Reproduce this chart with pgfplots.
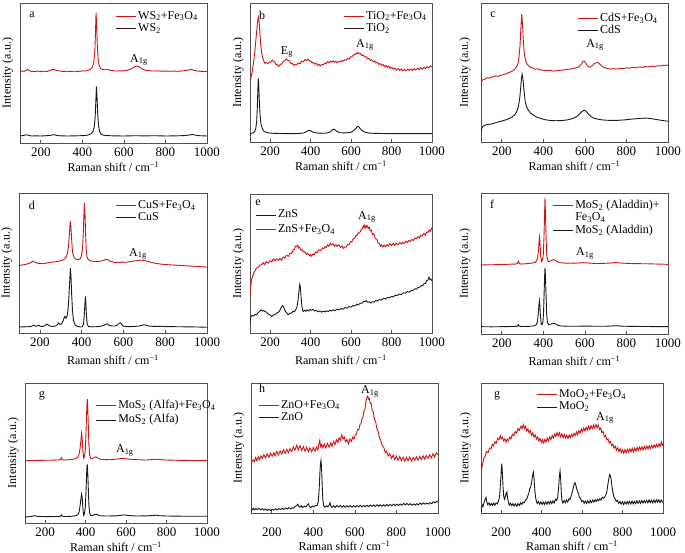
\documentclass[border=0pt]{standalone}
\usepackage{fontspec}
\setmainfont{Liberation Serif}
\usepackage{pgfplots}
\pgfplotsset{compat=1.18}
\definecolor{rred}{RGB}{205,20,20}
\definecolor{kline}{RGB}{25,25,25}
\definecolor{axisgray}{RGB}{80,80,80}
\newcommand\fs{\fontsize{12bp}{14bp}\selectfont}
\newcommand\ft{\fontsize{13bp}{15bp}\selectfont}
\newcommand\FeO{Fe\textsubscript{3}O\textsubscript{4}}
\newcommand\Ag{A\textsubscript{1g}}
\pgfplotsset{
 panel/.style={
  scale only axis, anchor=north west,
  xmin=100, xmax=1000, ymin=0, ymax=100,
  xtick={200,400,600,800,1000}, ytick=\empty,
  xtick pos=bottom, tick align=inside, major tick length=3bp,
  axis line style={line width=0.7bp, draw=axisgray},
  every tick/.style={line width=0.7bp, draw=axisgray},
  tick label style={font=\ft}, label style={font=\fs},
  xticklabel style={yshift=-1.5bp},
  /pgf/number format/assume math mode=true, /pgf/number format/1000 sep={},
  xlabel={Raman shift / cm\textsuperscript{−1}}, ylabel={Intensity (a.u.)},
  xlabel style={at={(axis description cs:0.5,0)}, anchor=center, yshift=-24bp},
  ylabel style={at={(axis description cs:-0.065,0.5)}, anchor=center},
  legend style={draw=none, fill=none, font=\fs, inner sep=0pt, row sep=0pt, column sep=1.5bp,
    nodes={inner sep=0.5bp, text height=8.5bp, text depth=3bp}},
  legend cell align=left,
  legend image code/.code={\draw[#1, line width=1bp] (0bp,0bp) -- (20bp,0bp);},
  rline/.style={color=rred, line width=0.9bp},
  kline/.style={color=kline, line width=0.9bp},
 },
}
\begin{document}
\begin{tikzpicture}
\path[use as bounding box] (0,0) rectangle (685bp,-553bp);

% ---------- a ----------
\begin{axis}[panel, at={(20bp,-3bp)}, width=187bp, height=140bp,
  legend style={at={(axis description cs:0.508,0.95)}, anchor=north west}]
\addplot[rline] coordinates {(100,51.0)(110,51.4)(120,51.2)(130,52.0)(137,52.6)(145,51.6)(155,51.2)(170,51.0)(185,51.4)(200,50.9)(215,51.3)(230,51.1)(245,51.8)(258,52.6)(268,52.3)(280,51.7)(295,51.4)(310,51.0)(325,51.3)(340,51.0)(360,51.3)(380,51.1)(400,51.5)(415,51.4)(430,52.0)(440,52.8)(448,54.0)(455,57.5)(460,65)(463,77)(466,93)(469,84)(472,70)(476,60)(481,55)(488,53.2)(497,52.4)(510,52.3)(520,52.6)(530,52.1)(545,51.7)(560,51.4)(580,51.5)(600,51.5)(615,51.9)(630,52.5)(642,53.6)(652,54.5)(662,55.0)(672,54.6)(682,53.6)(692,52.6)(705,52.0)(720,51.7)(740,51.4)(760,51.5)(780,51.3)(800,51.4)(820,51.2)(840,51.4)(860,51.2)(880,51.5)(900,51.8)(915,52.3)(925,52.6)(935,52.0)(950,51.5)(970,51.2)(985,51.1)(1000,51.0)};
\addlegendentry{WS\textsubscript{2}+\FeO}
\addplot[kline] coordinates {(100,5.0)(115,5.4)(128,5.8)(140,5.6)(155,5.0)(175,5.1)(200,5.0)(225,5.2)(245,5.4)(258,5.9)(268,5.8)(280,5.3)(300,5.1)(330,5.0)(360,5.1)(390,5.2)(415,5.4)(430,5.8)(442,6.6)(452,8.4)(458,12)(462,19)(465,30)(468,40.5)(471,32)(474,21)(478,12.5)(483,8.2)(490,6.3)(500,5.6)(520,5.3)(550,5.1)(600,5.0)(650,5.2)(700,5.1)(750,5.2)(800,5.0)(850,5.1)(890,5.3)(915,5.7)(930,6.1)(945,5.6)(965,5.2)(985,5.1)(1000,5.0)};
\addlegendentry{WS\textsubscript{2}}
\node[font=\fs] at (axis description cs:0.064,0.914) {a};
\node[font=\fs] at (axis description cs:0.636,0.593) {\Ag};
\end{axis}

% ---------- b ----------
\begin{axis}[panel, at={(250bp,-3bp)}, width=182bp, height=139bp,
  legend style={at={(axis description cs:0.511,0.95)}, anchor=north west}]
\addplot[rline] coordinates {(100,44.6)(105,46.5)(110,50)(115,54.5)(120,60)(125,67)(130,75)(134,81)(137,86)(141,90)(144,88)(147,83)(150,76)(153,70)(157,65)(162,61)(168,58.4)(174,56.6)(180,57.2)(187,56.4)(195,57.6)(202,57.4)(210,59.0)(216,58.2)(222,57.6)(228,55.8)(235,55.6)(242,54.4)(250,55.8)(257,56.2)(265,58.0)(272,58.4)(280,59.8)(287,58.8)(295,58.4)(302,56.6)(310,56.4)(316,55.0)(322,55.8)(330,55.6)(340,56.9)(348,56.4)(356,58.2)(364,57.6)(372,59.4)(380,58.6)(387,59.6)(394,58.2)(400,58.4)(407,56.8)(414,57.2)(420,56.0)(428,56.6)(435,55.0)(442,55.8)(448,54.8)(455,55.8)(462,55.4)(470,56.9)(477,56.2)(484,57.8)(490,57.0)(497,58.2)(504,57.4)(511,58.4)(518,57.4)(525,58.0)(532,57.0)(540,58.2)(547,57.6)(554,58.6)(561,58.0)(569,59.2)(576,58.8)(583,60.2)(590,59.6)(597,61.2)(604,61.2)(611,62.8)(618,62.6)(625,64.0)(630,63.4)(635,64.4)(641,63.4)(647,63.6)(653,62.2)(660,62.6)(667,61.2)(674,61.4)(681,60.0)(688,60.2)(695,58.8)(702,59.2)(709,57.8)(716,58.2)(723,56.8)(730,57.4)(737,55.8)(744,56.4)(751,55.0)(758,55.8)(765,54.2)(772,55.2)(779,53.6)(786,54.6)(793,53.0)(800,53.8)(808,52.4)(816,53.2)(824,51.8)(832,52.8)(840,51.4)(848,52.6)(856,51.2)(864,52.4)(872,51.2)(880,52.4)(888,51.4)(896,52.6)(904,51.6)(912,52.8)(920,51.8)(928,53.0)(936,52.0)(944,53.4)(952,52.4)(960,53.8)(968,52.8)(976,54.2)(984,53.4)(992,54.8)(1000,54.2)};
\addlegendentry{TiO\textsubscript{2}+\FeO}
\addplot[kline] coordinates {(100,6.2)(110,6.3)(118,6.8)(124,7.8)(129,10)(133,15)(136,24)(139,38)(141,45.8)(143,42)(146,30)(150,19)(155,12.5)(162,9.2)(170,7.6)(180,6.9)(195,6.5)(220,6.2)(260,6.1)(300,6.0)(340,6.1)(365,6.5)(378,7.4)(388,8.2)(395,8.4)(403,7.8)(415,6.9)(435,6.4)(470,6.3)(492,6.8)(503,8.2)(512,9.2)(520,8.8)(530,7.6)(545,6.7)(570,6.5)(595,6.8)(610,7.8)(622,9.6)(632,11.2)(638,11.0)(646,9.4)(656,8.0)(670,7.0)(690,6.4)(720,6.2)(760,6.1)(800,6.0)(850,6.0)(900,6.0)(950,6.0)(1000,6.0)};
\addlegendentry{TiO\textsubscript{2}}
\node[font=\fs] at (axis description cs:0.066,0.914) {b};
\node[font=\fs] at (axis description cs:0.203,0.647) {E\textsubscript{g}};
\node[font=\fs] at (axis description cs:0.632,0.698) {\Ag};
\end{axis}

% ---------- c ----------
\begin{axis}[panel, at={(481bp,-3bp)}, width=187bp, height=139bp,
  ylabel style={at={(axis description cs:-0.085,0.5)}},
  legend style={at={(axis description cs:0.513,0.935)}, anchor=north west}]
\addplot[rline] coordinates {(100,41.7)(103,43.5)(108,44.6)(113,45.0)(122,45.4)(130,46.2)(140,45.9)(150,46.8)(160,46.9)(170,47.6)(180,47.2)(193,47.9)(205,48.3)(215,48.9)(225,49.4)(235,50.0)(245,50.6)(255,51.4)(263,52.4)(270,53.8)(277,56)(283,61)(288,70)(292,82)(296,92)(300,84)(304,72)(309,63)(315,58.5)(322,56)(330,54.8)(340,53.6)(350,53.2)(360,52.4)(372,52.6)(385,51.8)(400,51.6)(415,51.3)(433,51.4)(450,51.0)(470,51.4)(490,51.7)(510,52.2)(530,52.4)(550,53.1)(565,53.6)(575,54.6)(584,56.4)(591,58.0)(597,58.3)(603,57.0)(610,55.2)(618,54.0)(626,53.8)(635,54.8)(645,56.4)(655,57.0)(664,57.2)(672,56.0)(682,54.6)(695,53.4)(710,52.8)(725,52.4)(740,52.8)(755,52.5)(770,53.0)(785,52.8)(800,53.4)(815,53.1)(830,53.7)(845,53.4)(860,54.0)(875,53.7)(890,54.3)(905,54.0)(920,54.6)(935,54.3)(950,54.9)(965,54.6)(980,55.3)(990,55.0)(1000,55.5)};
\addlegendentry{CdS+\FeO}
\addplot[kline] coordinates {(100,7.1)(103,9.5)(107,10.9)(113,11.6)(122,12.2)(130,12.6)(145,12.8)(160,13.4)(175,14.1)(190,14.7)(205,15.3)(220,16.0)(235,16.9)(250,18.0)(262,19.5)(272,21.8)(280,25.5)(286,31)(291,39)(295,46)(298,48.8)(302,45)(307,37)(313,29)(320,25)(329,22.6)(340,20.6)(355,19.0)(370,17.8)(390,16.8)(410,16.0)(433,15.5)(460,15.3)(490,15.4)(515,15.9)(535,16.6)(552,17.6)(565,18.8)(577,20.5)(587,22.0)(595,22.8)(602,22.6)(610,21.4)(620,19.6)(632,18.0)(645,17.1)(660,16.5)(680,16.0)(700,15.7)(730,15.5)(760,15.6)(790,15.9)(820,16.4)(850,16.8)(875,17.1)(895,17.2)(915,16.9)(935,16.4)(955,15.9)(975,15.4)(1000,15.0)};
\addlegendentry{CdS}
\node[font=\fs] at (axis description cs:0.064,0.914) {c};
\node[font=\fs] at (axis description cs:0.61,0.698) {\Ag};
\end{axis}

% ---------- d ----------
\begin{axis}[panel, at={(19bp,-193bp)}, width=188bp, height=140bp,
  xlabel style={yshift=-3bp},
  legend style={at={(axis description cs:0.51,0.957)}, anchor=north west}]
\addplot[rline] coordinates {(100,48.0)(115,48.6)(130,48.9)(145,49.6)(155,50.2)(163,51.0)(168,51.3)(175,50.6)(185,50.0)(195,49.6)(205,49.8)(215,49.4)(228,49.9)(240,50.2)(255,50.6)(270,50.8)(285,51.1)(297,51.6)(308,52.1)(318,52.9)(326,54.4)(332,57)(337,62)(341,70)(344,77)(346,79.8)(349,75)(352,67)(356,58)(361,55)(367,53.4)(375,52.6)(385,52.4)(393,53.0)(399,55)(404,60)(408,72)(411,85)(413,92.9)(416,85)(419,70)(422,59)(426,54)(432,52.4)(442,51.6)(455,51.2)(470,51.0)(485,51.2)(500,51.6)(510,52.2)(518,52.7)(526,52.2)(538,51.2)(550,50.7)(562,50.4)(574,50.6)(582,50.3)(595,50.7)(610,50.5)(625,50.8)(640,51.2)(655,51.5)(670,51.8)(685,52.0)(700,51.8)(715,51.2)(730,50.6)(745,50.0)(760,49.6)(780,49.2)(800,48.9)(830,48.6)(860,48.4)(890,48.1)(920,47.8)(950,47.6)(975,47.3)(1000,47.1)};
\addlegendentry{CuS+\FeO}
\addplot[kline] coordinates {(100,4.3)(130,4.4)(155,4.6)(165,5.2)(172,5.6)(180,4.8)(188,5.0)(195,5.6)(202,4.8)(215,4.7)(225,5.2)(232,6.3)(238,6.0)(248,4.9)(262,4.7)(275,5.0)(283,5.8)(290,7.2)(296,6.2)(303,6.4)(310,8.2)(316,10.8)(320,11.9)(325,10.4)(330,12)(335,17)(339,26)(343,38)(346,46.4)(349,40)(352,28)(356,16)(361,9)(368,6.0)(378,4.8)(392,4.4)(403,4.5)(409,6.5)(413,14)(416,22)(418,26.2)(420,22)(423,12)(427,6)(433,4.6)(450,4.4)(470,4.5)(490,4.8)(505,5.4)(515,6.2)(522,6.5)(530,5.6)(545,5.0)(560,5.0)(572,5.8)(580,7.0)(585,7.3)(590,6.4)(598,5.0)(615,4.6)(640,4.6)(660,4.8)(680,5.1)(695,5.8)(705,5.7)(720,5.0)(750,4.7)(780,4.8)(800,4.6)(850,4.5)(900,4.4)(950,4.3)(1000,4.1)};
\addlegendentry{CuS}
\node[font=\fs] at (axis description cs:0.069,0.914) {d};
\node[font=\fs] at (axis description cs:0.633,0.564) {\Ag};
\end{axis}

% ---------- e ----------
\begin{axis}[panel, at={(250bp,-194bp)}, width=182bp, height=139bp,
  xlabel style={yshift=-3bp},
  legend style={at={(axis description cs:0.027,0.895)}, anchor=north west, row sep=2bp}]
\addplot[kline] coordinates {(100,7.2)(102,10)(106,12.3)(110,12.6)(116,12.2)(125,13.3)(133,13.0)(141,14.8)(148,15.6)(155,16.7)(162,15.8)(168,16.3)(174,15.3)(182,15.1)(190,13.6)(198,13.1)(207,11.8)(215,12.9)(225,13.3)(235,14.6)(245,15.4)(250,17.2)(256,18.6)(262,19.8)(267,18.4)(273,16.0)(280,14.8)(289,13.1)(297,14.3)(306,14.3)(313,15.7)(320,15.3)(326,16.8)(332,18.5)(338,24)(342,30)(346,35)(349,33)(352,27)(356,20)(360,16.5)(363,15.4)(370,16.4)(376,15.6)(382,16.6)(390,15.8)(397,17.0)(404,16.3)(412,17.0)(420,15.8)(428,16.3)(436,15.2)(445,15.9)(455,15.0)(462,15.8)(470,15.2)(478,16.0)(487,15.3)(495,16.4)(503,15.8)(512,16.7)(520,16.1)(530,17.0)(540,16.6)(550,17.6)(560,17.1)(570,18.3)(580,17.9)(590,19.0)(600,18.6)(610,19.8)(620,19.5)(628,20.8)(635,20.2)(645,21.4)(655,21.6)(662,22.8)(668,22.6)(675,23.2)(682,22.1)(690,22.4)(698,21.6)(706,22.6)(714,22.2)(722,23.4)(730,23.0)(740,24.1)(750,23.7)(760,24.9)(770,24.4)(780,25.6)(790,25.2)(799,26.3)(808,26.0)(818,27.2)(828,26.9)(838,28.0)(848,27.6)(858,28.9)(868,28.6)(878,29.8)(888,29.4)(898,30.6)(908,30.8)(916,31.8)(924,31.6)(931,32.8)(940,33.0)(948,34.2)(955,34.1)(962,35.8)(968,35.7)(974,37.8)(980,38.0)(985,40.2)(990,38.5)(995,38.8)(1000,37.3)};
\addlegendentry{ZnS}
\addplot[rline] coordinates {(100,26.5)(103,33)(108,38.6)(115,41.5)(120,43.8)(125,44.6)(132,46.8)(140,47.0)(148,48.9)(158,49.0)(165,50.6)(172,49.2)(180,51.3)(190,50.2)(198,52.0)(207,51.1)(215,53.2)(222,51.9)(230,53.4)(240,52.1)(248,53.8)(256,52.4)(265,54.6)(272,53.9)(280,55.9)(290,55.2)(298,57.6)(306,57.1)(313,59.8)(320,60.2)(325,62.5)(330,62.0)(336,63.1)(340,61.2)(345,61.8)(352,59.6)(358,60.1)(363,58.4)(370,58.6)(378,56.6)(385,57.4)(393,55.5)(398,56.6)(404,55.3)(412,57.0)(418,56.3)(425,58.3)(432,57.6)(440,59.9)(450,59.3)(458,61.2)(465,60.6)(470,62.2)(478,61.6)(484,63.5)(490,62.4)(497,64.6)(503,63.4)(510,64.2)(518,62.5)(525,63.6)(530,62.3)(540,63.4)(548,61.5)(555,62.6)(562,60.8)(569,61.9)(576,61.8)(582,63.6)(590,63.4)(597,65.8)(603,65.5)(610,67.8)(617,67.9)(624,70.2)(630,70.2)(635,72.1)(642,71.8)(650,74.6)(655,74.8)(660,77.2)(665,75.8)(668,77.6)(673,75.5)(678,77.4)(685,75.3)(690,76.1)(695,73.5)(700,74.0)(706,70.8)(712,71.3)(720,67.8)(727,67.5)(733,64.6)(740,64.6)(745,62.4)(750,63.5)(757,61.8)(763,63.2)(770,62.0)(778,63.6)(785,62.6)(792,64.3)(800,63.0)(808,64.5)(815,63.1)(822,64.6)(832,63.5)(840,65.1)(848,64.0)(855,65.3)(862,64.4)(870,66.0)(878,65.1)(885,66.6)(892,65.7)(900,67.3)(908,66.6)(915,68.4)(922,67.7)(931,69.4)(938,68.3)(945,70.5)(952,69.8)(960,71.8)(967,70.4)(974,72.6)(980,72.4)(986,74.0)(991,73.0)(997,75.2)(1000,74.5)};
\addlegendentry{ZnS+\FeO}
\node[font=\fs] at (axis description cs:0.044,0.935) {e};
\node[font=\fs] at (axis description cs:0.643,0.835) {\Ag};
\end{axis}

% ---------- f ----------
\begin{axis}[panel, at={(481bp,-193bp)}, width=187bp, height=141bp,
  xlabel style={yshift=-3bp},
  ylabel style={at={(axis description cs:-0.085,0.5)}},
  legend style={at={(axis description cs:0.38,0.957)}, anchor=north west}]
\addplot[rline] coordinates {(100,49.0)(150,49.1)(200,49.3)(240,49.5)(268,49.6)(276,50.2)(280,51.6)(284,50.0)(295,49.6)(320,49.9)(345,50.3)(360,50.8)(368,52)(373,54.5)(377,60)(380,67)(382,69)(385,62)(388,54)(392,51.4)(396,52.5)(400,57)(403,68)(406,85)(408,96.4)(410,88)(413,70)(416,57)(420,52.5)(425,51.4)(432,51.6)(440,52.1)(448,52.6)(455,52.4)(462,51.8)(470,51.1)(480,50.6)(500,50.3)(530,50.2)(560,50.3)(592,50.6)(620,50.3)(650,50.0)(690,50.1)(720,50.3)(740,50.6)(752,50.7)(765,50.4)(800,50.1)(850,49.9)(900,49.8)(950,49.6)(1000,49.4)};
\addlegendentry{MoS\textsubscript{2} (Aladdin)+}
\addlegendimage{empty legend}
\addlegendentry{\FeO}
\addplot[kline] coordinates {(100,5.2)(150,5.1)(200,5.2)(240,5.3)(272,5.4)(277,5.8)(280,6.6)(284,5.6)(295,5.3)(330,5.4)(355,5.8)(366,6.6)(372,9)(376,15)(379,21)(381,23.7)(383,21)(386,13)(390,7)(394,6.6)(398,8.5)(401,15)(404,30)(406,40)(408,46.7)(410,42)(413,28)(416,14)(420,8)(426,6.6)(435,7.0)(445,7.5)(452,7.6)(460,7.0)(470,6.2)(485,5.7)(520,5.5)(560,5.5)(600,5.6)(650,5.5)(700,5.5)(740,5.8)(755,5.9)(770,5.6)(820,5.4)(900,5.3)(1000,5.2)};
\addlegendentry{MoS\textsubscript{2} (Aladdin)}
\node[font=\fs] at (axis description cs:0.059,0.922) {f};
\node[font=\fs] at (axis description cs:0.556,0.574) {\Ag};
\end{axis}

% ---------- g ----------
\begin{axis}[panel, at={(25bp,-383bp)}, width=182bp, height=140bp,
  legend style={at={(axis description cs:0.385,0.885)}, anchor=north west, row sep=2bp}]
\addplot[rline] coordinates {(100,44.5)(150,44.7)(200,44.8)(250,44.9)(272,45.1)(277,46.0)(280,46.6)(284,45.2)(300,45.0)(330,45.3)(350,45.9)(362,47.0)(368,49.5)(373,54)(377,60)(380,64.1)(383,60)(386,52)(390,46.5)(394,47.5)(398,52)(401,62)(404,75)(406,84)(408,88.5)(410,84)(413,70)(416,56)(420,48)(425,46.2)(432,46.0)(440,46.6)(448,47.2)(455,47.0)(462,46.4)(470,45.6)(490,45.3)(520,45.2)(550,45.6)(570,46.0)(585,46.2)(600,45.9)(620,45.5)(660,45.2)(700,45.0)(735,45.4)(750,45.6)(765,45.3)(800,45.0)(850,44.8)(900,44.7)(950,44.6)(1000,44.5)};
\addlegendentry{MoS\textsubscript{2} (Alfa)+\FeO}
\addplot[kline] coordinates {(100,4.3)(130,4.6)(145,5.2)(160,4.8)(200,4.5)(240,4.6)(272,4.7)(277,5.4)(280,5.9)(284,4.9)(300,4.6)(330,4.8)(350,5.2)(362,6.0)(368,8)(373,13)(377,18)(380,20.6)(383,18)(386,11)(390,5.5)(394,6.5)(398,11)(401,20)(404,32)(406,39)(408,41.9)(410,37)(413,25)(416,13)(420,7)(425,5.3)(432,5.2)(440,5.8)(448,6.2)(455,6.2)(462,5.6)(470,5.2)(500,5.0)(550,5.1)(580,5.6)(595,5.8)(610,5.4)(650,5.0)(700,5.1)(735,5.4)(750,5.6)(765,5.2)(800,5.0)(850,4.9)(900,4.8)(950,4.8)(1000,4.8)};
\addlegendentry{MoS\textsubscript{2} (Alfa)}
\node[font=\fs] at (axis description cs:0.093,0.907) {g};
\node[font=\fs] at (axis description cs:0.549,0.521) {\Ag};
\end{axis}

% ---------- h ----------
\begin{axis}[panel, at={(251bp,-383bp)}, width=187bp, height=130bp,
  xticklabel style={yshift=-10bp}, xlabel style={yshift=-9bp},
  legend style={at={(axis description cs:0.037,0.877)}, anchor=north west}]
\addplot[rline] coordinates {(100,37.3)(104,39.5)(110,40.9)(116,39.4)(122,42.6)(128,40.2)(135,43.4)(142,41.1)(148,44.0)(155,42.0)(162,44.9)(170,42.3)(178,45.6)(186,42.8)(194,46.0)(202,43.6)(210,46.4)(216,44.0)(224,47.5)(232,44.6)(240,47.8)(248,45.3)(256,48.6)(264,45.8)(272,49.0)(280,46.4)(288,49.5)(296,47.2)(304,50.8)(312,48.4)(320,52.2)(328,48.6)(336,51.8)(344,48.0)(352,51.2)(360,47.5)(368,50.6)(376,47.2)(384,50.2)(392,47.1)(400,50.4)(408,47.6)(415,50.8)(422,48.5)(427,53.5)(431,56.0)(435,51.0)(440,52.8)(446,50.0)(452,53.2)(460,50.0)(468,53.6)(476,50.6)(484,54.0)(490,51.2)(497,55.0)(504,52.6)(511,56.4)(518,54.2)(524,57.8)(530,56.0)(537,60.2)(543,56.8)(549,58.4)(555,54.8)(562,56.5)(569,53.2)(576,57.0)(583,55.0)(590,58.4)(596,56.8)(601,60.0)(607,60.4)(613,64.2)(619,64.0)(625,68.4)(630,68.6)(634,72.5)(639,73.8)(644,78.8)(648,79.2)(653,85.5)(658,88.8)(662,90.0)(666,87.6)(670,88.0)(674,84.4)(678,84.6)(683,79.2)(688,78.0)(694,72.0)(700,70.2)(706,64.8)(712,63.0)(718,58.0)(725,55.6)(732,51.6)(739,50.6)(746,46.4)(753,47.6)(760,43.8)(768,45.6)(776,42.0)(784,44.5)(792,41.0)(800,43.8)(808,40.6)(816,43.5)(824,40.2)(832,43.0)(840,39.8)(848,42.9)(856,40.2)(864,43.2)(872,40.0)(880,42.6)(888,40.4)(896,43.4)(904,40.6)(912,43.6)(920,41.0)(928,44.0)(936,41.4)(944,44.2)(952,42.0)(960,44.8)(968,42.4)(976,45.6)(984,43.0)(992,46.2)(1000,44.8)};
\addlegendentry{ZnO+\FeO}
\addplot[kline] coordinates {(100,0.8)(105,2.5)(110,3.6)(116,2.4)(122,3.5)(130,2.6)(138,3.6)(146,2.5)(154,3.3)(162,2.2)(170,3.1)(178,2.0)(186,3.0)(194,1.9)(202,2.9)(210,2.2)(218,3.2)(226,2.4)(234,3.4)(242,2.6)(250,3.6)(258,2.8)(266,3.9)(274,3.0)(282,4.1)(290,3.2)(298,4.0)(306,3.8)(314,5.2)(320,5.6)(325,6.8)(330,5.2)(336,4.4)(342,5.6)(348,4.2)(356,5.4)(364,4.6)(370,6.0)(376,7.0)(381,5.0)(388,4.2)(395,5.4)(402,4.6)(410,5.8)(418,5.6)(424,9)(428,18)(432,32)(435,39)(437,40.6)(440,33)(443,20)(446,10)(450,5.6)(456,4.4)(463,5.6)(470,4.8)(476,6.0)(480,8.0)(484,5.6)(490,4.2)(498,5.6)(506,4.4)(514,5.8)(522,4.6)(530,5.9)(538,4.5)(546,5.7)(554,4.4)(562,5.6)(570,4.6)(578,5.8)(586,4.4)(594,5.6)(602,4.6)(610,5.8)(618,4.8)(626,6.0)(634,4.6)(642,5.8)(650,4.8)(658,6.0)(666,4.9)(674,6.2)(682,5.0)(690,6.2)(698,5.0)(706,6.3)(714,5.2)(722,6.4)(730,5.2)(738,6.4)(746,5.3)(754,6.6)(762,5.4)(770,6.6)(778,5.5)(786,6.8)(794,5.6)(802,6.8)(810,5.8)(818,7.0)(826,6.0)(834,7.4)(842,6.2)(850,7.4)(858,6.1)(866,7.2)(874,6.0)(882,7.0)(890,6.0)(898,7.2)(906,6.2)(914,7.6)(922,6.6)(930,7.8)(938,6.8)(946,7.6)(954,6.9)(962,8.0)(970,7.2)(978,8.6)(986,7.8)(993,9.0)(1000,8.3)};
\addlegendentry{ZnO}
\node[font=\fs] at (axis description cs:0.059,0.962) {h};
\node[font=\fs] at (axis description cs:0.636,0.938) {\Ag};
\end{axis}

% ---------- i (labelled g) ----------
\begin{axis}[panel, at={(481bp,-383bp)}, width=182bp, height=130bp,
  xticklabel style={yshift=-10bp}, xlabel style={yshift=-9bp},
  ylabel style={at={(axis description cs:-0.085,0.5)}},
  legend style={at={(axis description cs:0.302,0.96)}, anchor=north west}]
\addplot[rline] coordinates {(100,25.9)(102,31)(105,35.5)(109,38.5)(114,42.0)(121,44.0)(128,47.2)(135,46.4)(142,50.0)(150,49.4)(156,52.8)(162,51.6)(168,54.8)(175,53.6)(182,57.4)(189,56.4)(195,59.4)(200,57.0)(206,58.4)(212,55.5)(218,57.2)(224,54.4)(230,56.8)(236,55.6)(242,58.4)(248,57.0)(255,60.4)(262,59.4)(269,62.6)(276,61.4)(283,65.0)(290,63.6)(297,66.8)(303,64.8)(309,68.0)(314,64.8)(320,66.8)(326,63.0)(332,64.8)(338,61.6)(344,63.4)(350,59.6)(356,61.6)(362,58.4)(368,60.2)(374,56.8)(380,58.6)(386,55.4)(392,57.4)(398,54.2)(404,56.4)(410,53.8)(416,56.8)(422,54.6)(428,57.6)(434,55.4)(440,58.6)(446,56.4)(452,59.6)(458,57.8)(464,60.8)(470,58.8)(476,61.8)(482,59.2)(488,61.6)(494,58.6)(500,61.0)(506,57.8)(512,60.4)(518,57.6)(524,60.0)(530,57.4)(536,60.0)(542,57.8)(548,60.6)(554,58.6)(560,61.4)(566,59.6)(572,62.4)(578,60.2)(584,63.4)(590,61.4)(596,64.6)(602,62.4)(608,65.4)(614,63.0)(620,66.0)(626,63.8)(632,66.8)(638,64.2)(644,67.2)(650,64.8)(656,67.6)(662,65.4)(668,68.2)(674,65.6)(680,67.8)(686,64.2)(692,65.4)(698,61.8)(704,62.6)(710,58.6)(716,59.6)(722,56.2)(728,57.2)(734,53.8)(740,55.0)(746,51.8)(752,53.0)(758,49.8)(764,51.4)(770,48.4)(776,50.2)(782,47.2)(788,49.4)(794,46.4)(800,48.6)(806,46.0)(812,48.8)(818,46.2)(824,49.0)(830,46.6)(836,49.4)(842,47.0)(848,49.8)(854,47.2)(860,50.0)(866,47.6)(872,50.4)(878,48.0)(884,50.8)(890,48.4)(896,51.0)(902,48.6)(908,51.2)(914,49.0)(920,51.6)(926,49.2)(932,51.8)(938,49.6)(944,52.0)(950,50.0)(956,52.4)(962,50.4)(968,52.8)(974,50.8)(980,53.2)(986,51.2)(992,54.6)(996,52.0)(1000,53.2)};
\addlegendentry{MoO\textsubscript{2}+\FeO}
\addplot[kline] coordinates {(100,0.5)(103,4)(106,6.2)(110,5.0)(115,8.0)(120,10.5)(125,11.9)(129,8.5)(133,6.4)(139,7.8)(145,5.8)(151,7.4)(157,5.8)(163,7.6)(169,6.0)(175,7.8)(181,7.0)(187,9.5)(192,13)(196,22)(200,32)(203,38)(206,30)(209,20)(213,12)(217,10.5)(221,13)(225,15.5)(228,16.2)(231,12)(235,8.5)(240,6.0)(246,7.6)(252,5.6)(258,7.2)(264,5.4)(270,7.0)(277,5.2)(283,7.2)(290,5.8)(296,7.8)(302,6.6)(308,8.4)(314,7.8)(320,9.8)(326,10.6)(332,13.4)(337,15.6)(341,18.8)(345,19.6)(349,22.5)(353,26.5)(357,30.5)(359,31.5)(362,27)(365,20)(369,13)(373,9.6)(378,7.2)(384,8.8)(390,6.8)(396,8.6)(402,6.6)(408,8.4)(414,6.6)(420,8.6)(426,6.8)(432,8.8)(438,7.0)(444,9.0)(450,7.2)(456,9.4)(462,7.6)(468,10.6)(474,9.6)(479,12)(484,20)(488,29)(491,32.2)(494,26)(497,16)(500,10)(505,7.6)(511,9.6)(517,7.8)(523,10.0)(529,8.4)(535,11.0)(541,10.4)(547,14.0)(552,16.4)(557,20.0)(562,22.6)(565,23.4)(569,21.4)(573,18.8)(577,16.6)(582,14.8)(587,12.0)(592,11.4)(598,8.8)(604,9.6)(610,7.4)(616,9.2)(622,7.4)(628,9.4)(634,7.6)(640,9.6)(646,8.0)(652,10.0)(658,8.4)(664,10.2)(670,8.8)(676,10.6)(682,9.4)(688,11.0)(694,10.0)(700,12.0)(706,11.4)(712,12.4)(718,14.0)(722,16.0)(726,20.4)(730,24.6)(734,28.0)(737,29.7)(740,28.4)(744,25.6)(748,20.0)(752,16.0)(757,12.4)(763,11.0)(769,9.0)(775,9.8)(781,7.4)(787,8.8)(793,6.8)(799,8.6)(805,6.6)(811,8.6)(817,6.8)(823,8.8)(829,7.0)(835,9.0)(841,7.0)(847,9.2)(853,7.0)(859,9.0)(865,7.2)(871,9.4)(877,7.4)(883,9.4)(889,7.4)(895,9.6)(901,7.6)(907,9.6)(913,7.8)(919,9.8)(925,7.8)(931,10.0)(937,8.0)(943,9.8)(949,7.8)(955,10.0)(961,8.0)(967,10.2)(973,8.2)(979,10.2)(985,8.0)(991,10.0)(996,8.4)(1000,8.6)};
\addlegendentry{MoO\textsubscript{2}}
\node[font=\fs] at (axis description cs:0.088,0.9) {g};
\node[font=\fs] at (axis description cs:0.681,0.731) {\Ag};
\end{axis}
\end{tikzpicture}
\end{document}
